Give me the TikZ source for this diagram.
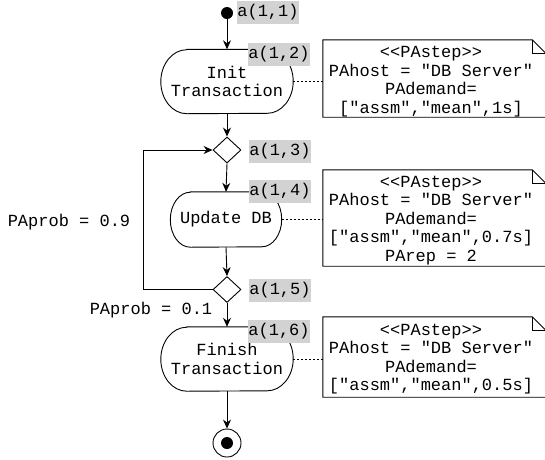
\documentclass[tikz,border=0pt]{standalone}
\usepackage{fontspec}
\newfontfamily\courfont{Liberation Mono}
\usetikzlibrary{shapes.geometric,arrows.meta}

\tikzset{
  every node/.style={font=\courfont\fontsize{17}{18.5}\selectfont},
  base/.style={line width=0.9pt},
  flow/.style={base,-{Stealth[length=9pt,width=8pt,inset=3pt]}},
  link/.style={line width=0.8pt,dash pattern=on 2pt off 2pt},
  action/.style={rectangle,inner sep=0pt,align=center},
  decision/.style={base,draw,diamond,inner sep=0pt,minimum width=28pt,minimum height=26pt,shape aspect=1.08},
  tag/.style={fill=gray!35,inner sep=0pt,minimum width=60pt,minimum height=23pt},
  notebox/.style={inner sep=0pt},
  notetext/.style={align=center,inner sep=0pt},
  problabel/.style={inner sep=0pt}
}

% action outline: straight top and bottom, elliptic ends
\newcommand\drawaction[3]{%
  \draw[base] ([xshift=#2]#1.north west) -- ([xshift=-#2]#1.north east)
    arc[start angle=90,end angle=-90,x radius=#2,y radius=#3]
    -- ([xshift=#2]#1.south west)
    arc[start angle=270,end angle=90,x radius=#2,y radius=#3] -- cycle;
}

% UML note outline with a folded top-right corner
\newcommand\drawnote[1]{%
  \draw[base] (#1.north west) -- ([xshift=-14pt]#1.north east)
    -- ([yshift=-14pt]#1.north east) -- (#1.south east)
    -- (#1.south west) -- cycle;
  \draw[base] ([xshift=-14pt]#1.north east) |- ([yshift=-14pt]#1.north east);
}

\begin{document}
\begin{tikzpicture}[x=1pt,y=-1pt]
\useasboundingbox (0,0) rectangle (545,459);

% initial node
\node[circle,fill,inner sep=0pt,minimum size=12pt] (start) at (227,13) {};
\node[tag] (t1) at (268,12.5) {a(1,1)};

% actions
\node[action,minimum width=132pt,minimum height=64pt] (init) at (227,81.5) {Init\\Transaction};
\drawaction{init}{26pt}{32pt}
\node[tag] (t2) at (279,54) {a(1,2)};

\node[decision] (d1) at (227,150) {};
\node[tag] (t3) at (280,151.5) {a(1,3)};

\node[action,minimum width=111pt,minimum height=55pt] (update) at (226,219.5) {Update DB};
\drawaction{update}{20pt}{27.5pt}
\node[tag] (t4) at (280,191) {a(1,4)};

\node[decision] (d2) at (227,289.5) {};
\node[tag] (t5) at (280,290) {a(1,5)};

\node[action,minimum width=132pt,minimum height=64pt] (finish) at (227,359) {Finish\\Transaction};
\drawaction{finish}{26pt}{32pt}
\node[tag] (t6) at (279,331) {a(1,6)};

% final node
\node[base,draw,circle,inner sep=0pt,minimum size=28pt] (final) at (227,443) {};
\node[circle,fill,inner sep=0pt,minimum size=12pt] (finaldot) at (final.center) {};

% control flow
\draw[flow] (start) -- (init.north);
\draw[flow] (init.south) -- (d1.north);
\draw[flow] (d1.south) -- (update.north);
\draw[flow] (update.south) -- (d2.north);
\draw[flow] (d2.south) -- (finish.north);
\draw[flow] (finish.south) -- (final.north);
\draw[flow] (d2.west) -- ++(-69,0) coordinate (loopc) |- (d1.west);

\node[problabel] (p9) at (69,222) {PAprob = 0.9};
\node[problabel] (p1) at (151,310) {PAprob = 0.1};

% annotation notes
\node[notebox,minimum width=223pt,minimum height=77pt] (n1) at (434.5,78.5) {};
\drawnote{n1}
\node[notetext] (n1t) at (431,81.5) {<{}<PAstep>{}>\\PAhost = "DB Server"\\PAdemand=\\{[}"assm","mean",1s{]}};

\node[notebox,minimum width=223pt,minimum height=96pt] (n2) at (434.5,218) {};
\drawnote{n2}
\node[notetext] (n2t) at (431,220.5) {<{}<PAstep>{}>\\PAhost = "DB Server"\\PAdemand=\\{[}"assm","mean",0.7s{]}\\PArep = 2};

\node[notebox,minimum width=223pt,minimum height=80pt] (n3) at (434.5,357) {};
\drawnote{n3}
\node[notetext] (n3t) at (431,359) {<{}<PAstep>{}>\\PAhost = "DB Server"\\PAdemand=\\{[}"assm","mean",0.5s{]}};

\draw[link] (init.east) -- (init.east -| n1.west);
\draw[link] (update.east) -- (update.east -| n2.west);
\draw[link] (finish.east) -- (finish.east -| n3.west);
\end{tikzpicture}
\end{document}
